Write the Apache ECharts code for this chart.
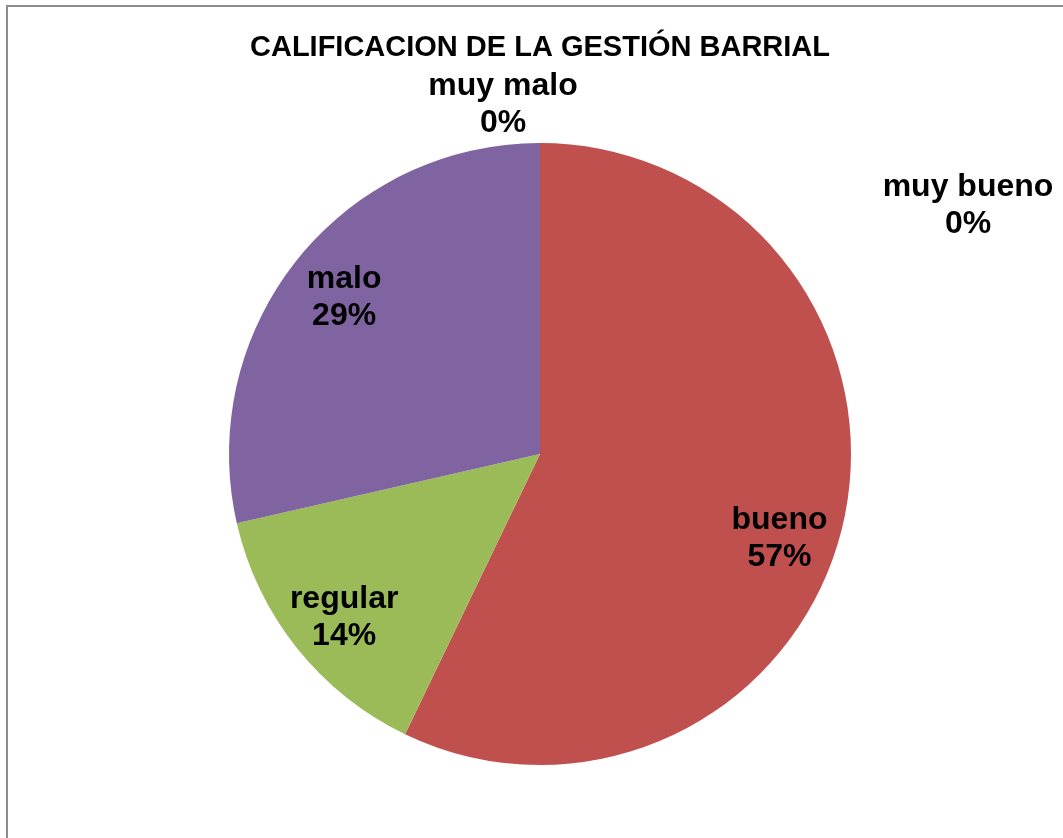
<!DOCTYPE html>
<html>
<head>
<meta charset="utf-8">
<script src="https://cdn.jsdelivr.net/npm/echarts@6/dist/echarts.min.js"></script>
<style>
  html, body { margin: 0; padding: 0; background: #fff; }
  #chart { position: absolute; left: 0; top: 0; width: 1063px; height: 838px; }
  #frame { position: absolute; left: 6px; top: 5px; width: 1200px; height: 1000px;
           border: 2px solid #8c8c8c; pointer-events: none; box-sizing: border-box; }
</style>
</head>
<body>
<div id="chart"></div>
<div id="frame"></div>
<script>
const titleText = 'CALIFICACION DE LA GESTIÓN BARRIAL';
const categories = ['muy bueno', 'bueno', 'regular', 'malo', 'muy malo'];
const values = [0, 4, 1, 2, 0];
const colors = ['#4F81BD', '#C0504D', '#9BBB59', '#8064A2', '#4BACC6'];

const chart = echarts.init(document.getElementById('chart'), null, { renderer: 'canvas' });

const FONT = '"Liberation Sans", Arial, sans-serif';
const R = 311;

const pieData = categories.map((c, i) => ({ name: c, value: values[i], itemStyle: { color: colors[i] } }));
const labelData = categories.map((c, i) => ({
  name: c,
  value: values[i],
  label: { position: values[i] === 0 ? 'outside' : 'inside' }
}));

const labelOffsets = {
  'muy bueno': { dx: 433, dy: 63, align: 'center' },
  'muy malo': { dx: -32, dy: -38, align: 'center' },
  'bueno': { dx: -6, dy: 29 },
  'regular': { dx: 1, dy: 7 },
  'malo': { dx: 1, dy: 1 }
};

chart.setOption({
  animation: false,
  backgroundColor: '#ffffff',
  title: {
    text: titleText,
    left: 245,
    top: 28,
    textStyle: { fontFamily: FONT, fontWeight: 'bold', fontSize: 29, color: '#000' }
  },
  series: [
    {
      type: 'pie',
      center: [540, 454],
      radius: R,
      startAngle: 90,
      clockwise: true,
      silent: true,
      data: pieData,
      label: { show: false },
      labelLine: { show: false },
      itemStyle: { borderWidth: 0 }
    },
    {
      type: 'pie',
      center: [540, 454],
      radius: [R * 0.6, R],
      startAngle: 90,
      clockwise: true,
      silent: true,
      avoidLabelOverlap: false,
      data: labelData,
      itemStyle: { color: 'rgba(0,0,0,0)', borderWidth: 0 },
      label: {
        show: true,
        fontFamily: FONT,
        fontWeight: 'bold',
        fontSize: 32,
        lineHeight: 37,
        color: '#000',
        align: 'center',
        formatter: p => p.name + '\n' + Math.round(p.percent) + '%'
      },
      labelLine: { show: false, length: 0, length2: 0 },
      labelLayout: p => {
        const name = categories[p.dataIndex];
        return labelOffsets[name] || {};
      }
    }
  ]
});
</script>
</body>
</html>
